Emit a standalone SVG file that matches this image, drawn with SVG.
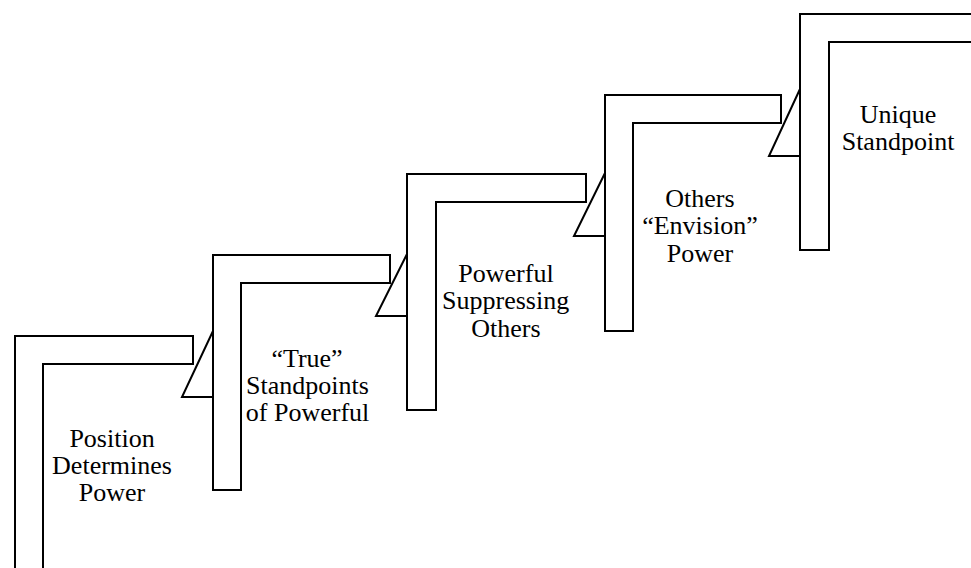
<svg xmlns="http://www.w3.org/2000/svg" width="971" height="568" viewBox="0 0 971 568">
<rect width="971" height="568" fill="#fff"/>
<g id="step1">
<path d="M15,570 V336 H193 V364 H43 V570" fill="none" stroke="#000" stroke-width="2"/>
<text x="69.4" y="447" font-size="26" font-family="'Liberation Serif', serif">Position</text>
<text x="52.1" y="474" font-size="26" font-family="'Liberation Serif', serif">Determines</text>
<text x="78.8" y="501" font-size="26" font-family="'Liberation Serif', serif">Power</text>
</g>
<g id="step2">
<path d="M213,490 V255 H390 V283 H241 V490 Z" fill="none" stroke="#000" stroke-width="2"/>
<text x="271.4" y="367" font-size="26" font-family="'Liberation Serif', serif">“True”</text>
<text x="246.1" y="394" font-size="26" font-family="'Liberation Serif', serif">Standpoints</text>
<text x="245.8" y="421" font-size="26" font-family="'Liberation Serif', serif">of Powerful</text>
</g>
<g id="step3">
<path d="M407,410 V174 H586 V202 H436 V410 Z" fill="none" stroke="#000" stroke-width="2"/>
<text x="458.3" y="282" font-size="26" font-family="'Liberation Serif', serif">Powerful</text>
<text x="442.1" y="309" font-size="26" font-family="'Liberation Serif', serif">Suppressing</text>
<text x="471.3" y="337" font-size="26" font-family="'Liberation Serif', serif">Others</text>
</g>
<g id="step4">
<path d="M605,331 V95 H781 V123 H633 V331 Z" fill="none" stroke="#000" stroke-width="2"/>
<text x="665.3" y="207" font-size="26" font-family="'Liberation Serif', serif">Others</text>
<text x="642.2" y="234" font-size="26" font-family="'Liberation Serif', serif">“Envision”</text>
<text x="666.8" y="262" font-size="26" font-family="'Liberation Serif', serif">Power</text>
</g>
<g id="step5">
<path d="M975,14 H800 V250 H829 V42 H975" fill="none" stroke="#000" stroke-width="2"/>
<text x="859.7" y="123" font-size="26" font-family="'Liberation Serif', serif">Unique</text>
<text x="841.7" y="150" font-size="26" font-family="'Liberation Serif', serif">Standpoint</text>
</g>
<g id="connectors" fill="none" stroke="#000" stroke-width="2">
<polygon points="213,331 182,397 213,397"/>
<polygon points="407,254 376,316 407,316"/>
<polygon points="605,173 574,236 605,236"/>
<polygon points="800,89 769,156 800,156"/>
</g>
</svg>
